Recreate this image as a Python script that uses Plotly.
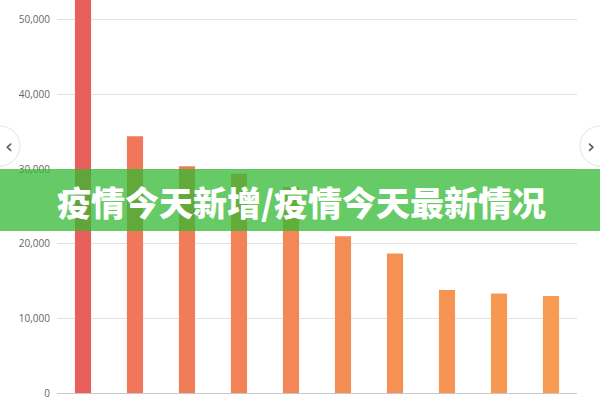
import plotly.graph_objects as go

# valori (barre in ordine decrescente)
categorie = ["1", "2", "3", "4", "5", "6", "7", "8", "9", "10"]
valori = [56000, 34400, 30400, 29400, 27600, 21000, 18700, 13800, 13350, 13000]
colori = [
    "#e95f5c", "#f0775a", "#f17d58", "#f28357", "#f38856",
    "#f48d55", "#f59154", "#f69553", "#f69852", "#f79b52",
]
valori_y = [0, 10000, 20000, 30000, 40000, 50000]
etichette_y = ["0", "10,000", "20,000", "30,000", "40,000", "50,000"]
titolo = "疫情今天新增/疫情今天最新情况"

fig = go.Figure(
    go.Bar(
        x=categorie,
        y=valori,
        marker=dict(color=colori, line=dict(width=0)),
        width=0.31,
        hoverinfo="skip",
    )
)
fig.update_layout(
    width=600,
    height=400,
    margin=dict(l=57, r=23, t=0, b=7, autoexpand=False),
    plot_bgcolor="white",
    paper_bgcolor="white",
    showlegend=False,
    xaxis=dict(
        showticklabels=False,
        showgrid=False,
        zeroline=False,
        range=[-0.5, 9.5],
    ),
    yaxis=dict(
        range=[0, 52680],
        tickvals=valori_y,
        ticktext=etichette_y,
        tickfont=dict(family="Open Sans", size=10, color="#666666"),
        gridcolor="#e2e2e2",
        gridwidth=1,
        zeroline=True,
        zerolinecolor="#c8c8c8",
        zerolinewidth=1,
        ticklabelstandoff=6,
        automargin=False,
    ),
)

# fascia verde semitrasparente con il titolo
fig.add_shape(
    type="rect",
    xref="paper",
    yref="paper",
    x0=-0.2,
    x1=1.2,
    y0=(393 - 231) / 393,
    y1=(393 - 169) / 393,
    fillcolor="rgba(51,185,51,0.75)",
    line=dict(width=0),
    layer="above",
)
fig.add_annotation(
    xref="paper",
    yref="paper",
    x=(301 - 57) / 520,
    y=(393 - 201) / 393,
    text=titolo,
    showarrow=False,
    font=dict(family="Noto Sans CJK SC", size=34, color="white", weight=900),
)

# pulsanti circolari ai bordi (carosello)
for cx, freccia in [(-57, "‹"), (543, "›")]:
    fig.add_shape(
        type="circle",
        xref="paper",
        yref="paper",
        x0=(cx - 20) / 520,
        x1=(cx + 20) / 520,
        y0=(393 - 166) / 393,
        y1=(393 - 126) / 393,
        fillcolor="white",
        line=dict(color="#e4e4e4", width=1),
        layer="above",
    )
    fig.add_annotation(
        xref="paper",
        yref="paper",
        x=(cx + (3 if cx < 0 else -3)) / 520,
        y=(393 - 146) / 393,
        text=freccia,
        showarrow=False,
        font=dict(family="DejaVu Sans", size=20, color="#555555"),
    )

# toglie il margine di default del body della pagina
fig.write_html(
    "out.html",
    config={"displayModeBar": False},
    post_script="document.body.style.margin='0';",
)
